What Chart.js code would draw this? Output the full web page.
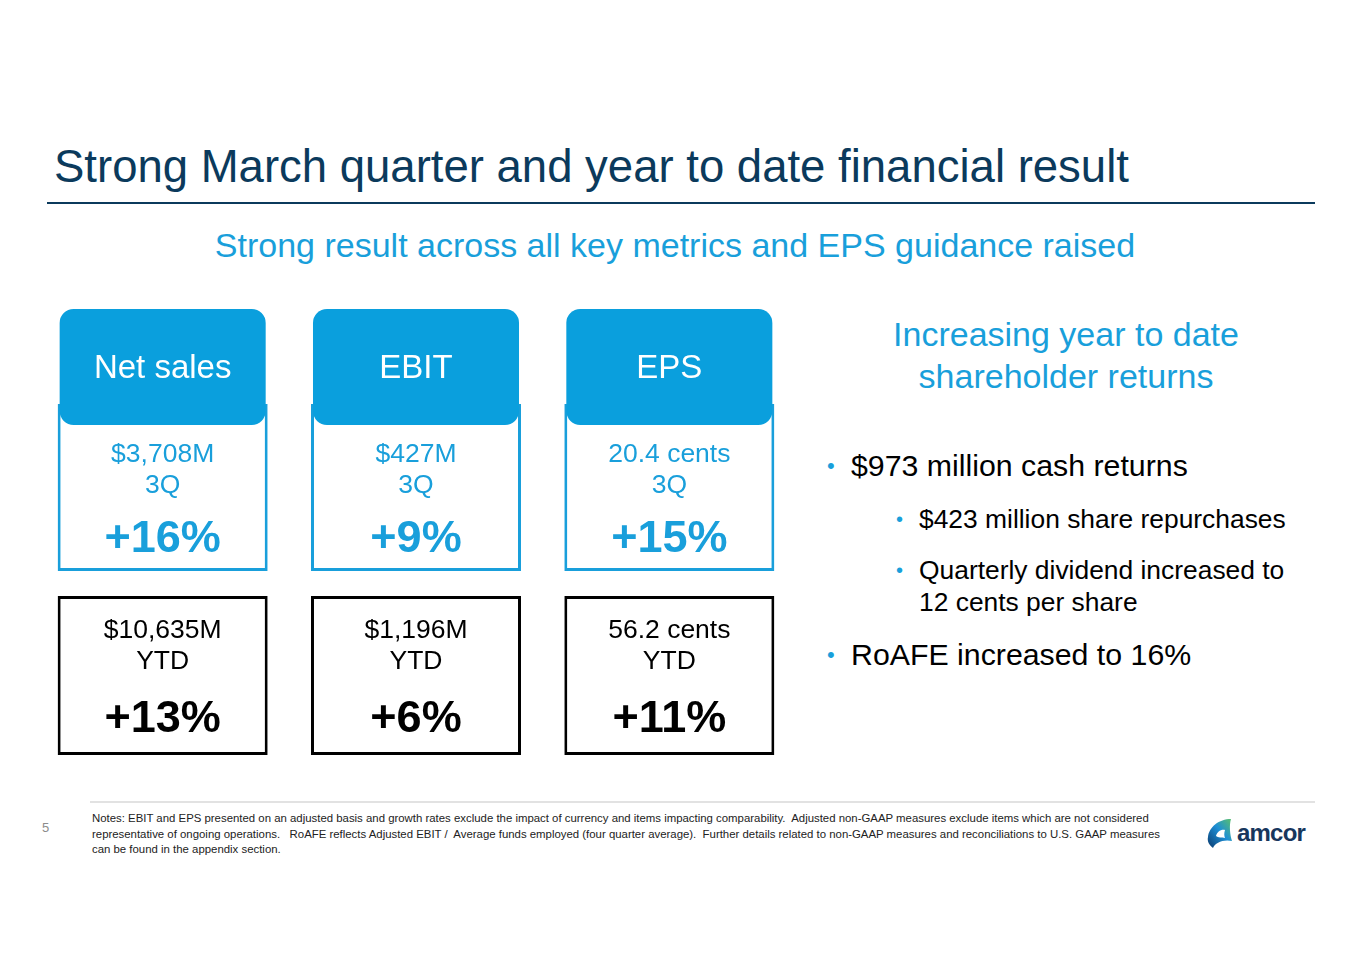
<!DOCTYPE html>
<html>
<head>
<meta charset="utf-8">
<script src="https://cdn.jsdelivr.net/npm/chart.js@4.4.1/dist/chart.umd.min.js"></script>
<style>
  html, body { margin: 0; padding: 0; background: #fff; }
  body { width: 1365px; height: 965px; position: relative; overflow: hidden; font-family: "Liberation Sans", Arial, sans-serif; }
  .abs { position: absolute; white-space: nowrap; }
  #title { left: 54px; top: 139px; font-size: 45.5px; color: #0b3a5c; line-height: 56px; }
  #rule { left: 47px; top: 202px; width: 1268px; height: 2px; background: #0b3a5c; }
  #subtitle { left: 0; width: 1350px; top: 225px; text-align: center; font-size: 34px; color: #199fdb; line-height: 40px; }
  #returnsHead { left: 866px; width: 400px; top: 313px; text-align: center; font-size: 34px; color: #199fdb; line-height: 42px; }
  .bullet { color: #000; }
  .bullet::before { content: "\2022"; position: absolute; color: #199fdb; }
  .lvl1 { font-size: 30.3px; line-height: 34px; }
  .lvl1::before { left: -24px; font-size: 22px; }
  .lvl2 { font-size: 26.4px; line-height: 32px; }
  .lvl2::before { left: -23px; font-size: 20px; }
  #footRule { left: 90px; top: 801px; width: 1225px; height: 2px; background: #e2e2e2; }
  #pageNo { left: 42px; top: 820px; font-size: 13px; color: #8c8c8c; }
  #notes { left: 92px; top: 811px; font-family: "Liberation Sans Narrow", "Liberation Sans", Arial, sans-serif; font-size: 11.4px; line-height: 15.5px; color: #222; }
  #chartWrap { position: absolute; left: 36px; top: 300px; width: 760px; height: 470px; }
  #logo { left: 1205px; top: 815px; width: 112px; height: 36px; }
</style>
</head>
<body>
<div id="title" class="abs">Strong March quarter and year to date financial result</div>
<div id="rule" class="abs"></div>
<div id="subtitle" class="abs">Strong result across all key metrics and EPS guidance raised</div>

<div id="chartWrap"><canvas id="myChart"></canvas></div>

<div id="returnsHead" class="abs">Increasing year to date<br>shareholder returns</div>
<div class="abs bullet lvl1" style="left:851px; top:449px;">$973 million cash returns</div>
<div class="abs bullet lvl2" style="left:919px; top:503px;">$423 million share repurchases</div>
<div class="abs bullet lvl2" style="left:919px; top:554px;">Quarterly dividend increased to<br>12 cents per share</div>
<div class="abs bullet lvl1" style="left:851px; top:638px;">RoAFE increased to 16%</div>

<div id="footRule" class="abs"></div>
<div id="pageNo" class="abs">5</div>
<div id="notes" class="abs">Notes: EBIT and EPS presented on an adjusted basis and growth rates exclude the impact of currency and items impacting comparability.&nbsp; Adjusted non-GAAP measures exclude items which are not considered<br>representative of ongoing operations.&nbsp;&nbsp; RoAFE reflects Adjusted EBIT /&nbsp; Average funds employed (four quarter average).&nbsp; Further details related to non-GAAP measures and reconciliations to U.S. GAAP measures<br>can be found in the appendix section.</div>

<svg id="logo" class="abs" viewBox="0 0 112 36">
  <defs>
    <linearGradient id="lg" x1="0" y1="1" x2="1" y2="0">
      <stop offset="0" stop-color="#0b3a6e"/>
      <stop offset="0.55" stop-color="#1d8fd6"/>
      <stop offset="1" stop-color="#5cc16a"/>
    </linearGradient>
  </defs>
  <path d="M3 22 C4 12 14 4 26 4 C24 10 25 20 27 26 C18 24 10 28 8 33 C4 30 2 26 3 22 Z M11 21 C12 17 16 14 20 15 C19 18 19 21 20 23 C17 22 13 23 11 21 Z" fill="url(#lg)" fill-rule="evenodd"/>
  <text x="32" y="26" font-family="Liberation Sans, Arial, sans-serif" font-size="24" font-weight="bold" fill="#17365d" letter-spacing="-0.8">amcor</text>
</svg>

<script>
// metrics shown in the cards
const metrics = ['Net sales', 'EBIT', 'EPS']
const quarterAmounts = [3708, 427, 20.4]
const ytdAmounts = [10635, 1196, 56.2]
const amountUnits = ['$M', '$M', 'cents']
const quarterGrowth = [16, 9, 15]
const ytdGrowth = [13, 6, 11]
const quarterLabel = '3Q'
const ytdLabel = 'YTD'

const blue = '#0a9fdd'
const lightBlue = '#199fdb'

// vertical bands of the cards (canvas px, y axis reversed)
const bands = {
  tab: [9, 125],
  quarter: [104, 271],
  ytd: [296, 455]
}

function formatAmount(v, unit) {
  if (unit === '$M') return '$' + v.toLocaleString('en-US') + 'M'
  return v.toFixed(1) + ' cents'
}

const cardText = {
  id: 'cardText',
  afterDatasetsDraw(chart) {
    const ctx = chart.ctx
    const y = chart.scales.y
    const bars = chart.getDatasetMeta(0).data
    ctx.save()
    ctx.textAlign = 'center'
    ctx.textBaseline = 'middle'
    bars.forEach((bar, i) => {
      const x = bar.x
      ctx.fillStyle = '#ffffff'
      ctx.font = '33px "Liberation Sans", Arial, sans-serif'
      ctx.fillText(metrics[i], x, y.getPixelForValue(69))

      ctx.fillStyle = lightBlue
      ctx.font = '26.5px "Liberation Sans", Arial, sans-serif'
      ctx.fillText(formatAmount(quarterAmounts[i], amountUnits[i]), x, y.getPixelForValue(155))
      ctx.fillText(quarterLabel, x, y.getPixelForValue(186))
      ctx.font = 'bold 45px "Liberation Sans", Arial, sans-serif'
      ctx.fillText('+' + quarterGrowth[i] + '%', x, y.getPixelForValue(240))

      ctx.fillStyle = '#000000'
      ctx.font = '26.5px "Liberation Sans", Arial, sans-serif'
      ctx.fillText(formatAmount(ytdAmounts[i], amountUnits[i]), x, y.getPixelForValue(331))
      ctx.fillText(ytdLabel, x, y.getPixelForValue(362))
      ctx.font = 'bold 45px "Liberation Sans", Arial, sans-serif'
      ctx.fillText('+' + ytdGrowth[i] + '%', x, y.getPixelForValue(420))
    })
    ctx.restore()
  }
}

const ctx = document.getElementById('myChart').getContext('2d')

const myChart = new Chart(ctx, {
  type: 'bar',
  data: {
    labels: metrics,
    datasets: [
      {
        label: 'tab',
        data: metrics.map(() => bands.tab),
        backgroundColor: blue,
        borderWidth: 0,
        borderRadius: 14,
        borderSkipped: false,
        barPercentage: 0.981,
        grouped: false
      },
      {
        label: quarterLabel,
        data: metrics.map(() => bands.quarter),
        backgroundColor: '#ffffff',
        borderColor: lightBlue,
        borderWidth: 3,
        borderSkipped: false,
        barPercentage: 1,
        grouped: false
      },
      {
        label: ytdLabel,
        data: metrics.map(() => bands.ytd),
        backgroundColor: '#ffffff',
        borderColor: '#000000',
        borderWidth: 3,
        borderSkipped: false,
        barPercentage: 1,
        grouped: false
      }
    ]
  },
  options: {
    responsive: true,
    maintainAspectRatio: false,
    animation: false,
    categoryPercentage: 0.829,
    layout: { padding: 0 },
    plugins: {
      legend: { display: false },
      tooltip: { enabled: false }
    },
    scales: {
      x: { display: false },
      y: { display: false, min: 0, max: 470, reverse: true }
    }
  },
  plugins: [cardText]
})
</script>
</body>
</html>
